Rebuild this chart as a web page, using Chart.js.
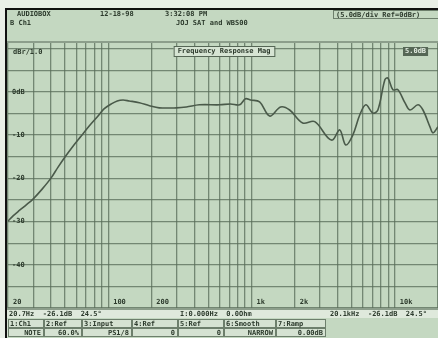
<!DOCTYPE html>
<html><head><meta charset="utf-8">
<script src="https://cdn.jsdelivr.net/npm/chart.js@4"></script>
<style>html,body{margin:0;padding:0;background:#e9efe7;overflow:hidden}#wrap{width:438px;height:338px;position:relative}</style>
</head><body><div id="wrap"><canvas id="c" width="438" height="338"></canvas></div>
<script>
// ---- data ----
const freqHz = [20,21.7,23.9,26.7,29.9,34.6,40,44.7,50.1,57,64.8,73.7,83.8,93.9,105,115.7,127,140,165,194,227,299,351,433,598,714,825,909,985,1138,1337,1596,1845,2275,2760,3404,3689,4127,4546,5088,5696,6275,7024,7612,8520,8940,9690,10500,11750,12740,14500,15710,17580,18450,20000];
const levelDb = [-29.9,-28.7,-27.5,-26.2,-24.8,-22.5,-19.9,-17.4,-15.0,-12.5,-10.2,-7.9,-5.8,-3.9,-2.8,-2.1,-1.9,-2.1,-2.5,-3.2,-3.7,-3.7,-3.5,-3.0,-3.0,-2.8,-3.0,-1.6,-1.9,-2.3,-5.6,-3.5,-4.2,-7.2,-6.9,-10.6,-11.1,-8.8,-12.3,-10.0,-5.3,-3.0,-4.9,-4.2,2.8,3.2,0.5,0.5,-2.5,-4.2,-3.0,-4.2,-8.1,-9.5,-8.1];
const gridFreqs = [20,30,40,50,60,70,80,90,100,200,300,400,500,600,700,800,900,1000,2000,3000,4000,5000,6000,7000,8000,9000,10000,20000];
const gridDb = [-50,-45,-40,-35,-30,-25,-20,-15,-10,-5,0,5,10];
const xLabelFreqs = [20,100,200,1000,2000,10000];
const xLabelTexts = ['20','100','200','1k','2k','10k'];
const yLabelDb = [0,-10,-20,-30,-40];
const yLabelTexts = ['0dB','-10','-20','-30','-40'];
const titleText = 'Frequency Response Mag';
const unitText = 'dBr/1.0';
const scaleText = '5.0dB';
const headerRow1 = ['AUDIOBOX', '12-18-98', '3:32:08 PM'];
const headerBox = '(5.0dB/div Ref=0dBr)';
const headerRow2Left = 'B Ch1';
const headerRow2Center = 'JOJ SAT and WBS00';
const statusRow1Left = '20.7Hz  -26.1dB  24.5\u00b0';
const statusRow1Mid = 'I:0.000Hz  0.0Ohm';
const statusRow1Right = '20.1kHz  -26.1dB  24.5\u00b0';
const statusRow2 = ['1:Ch1','2:Ref','3:Input','4:Ref','5:Ref','6:Smooth','7:Ramp'];
const statusRow3 = ['NOTE','60.0%','PS1/8','0','0','NARROW','0.00dB'];

const BG = '#c4d8c1', GRID = 'rgba(88,108,88,0.75)', INK = '#2c3a2c';

const decor = {
  id: 'decor',
  beforeDraw(chart) {
    const ctx = chart.ctx;
    ctx.save();
    ctx.fillStyle = '#e9efe7'; ctx.fillRect(0, 0, 438, 338);
    ctx.fillStyle = BG; ctx.fillRect(7, 9, 431, 329);
    ctx.fillStyle = '#111'; ctx.fillRect(5, 8, 2, 330); ctx.fillRect(5, 8, 433, 2);
    ctx.fillStyle = '#8c9e8b'; ctx.fillRect(7, 41, 431, 2);
    // header
    ctx.fillStyle = INK; ctx.font = 'bold 7px "DejaVu Sans Mono"'; ctx.textBaseline = 'middle';
    ctx.fillText(headerRow1[0], 17, 14); ctx.fillText(headerRow1[1], 100, 14); ctx.fillText(headerRow1[2], 165, 14);
    ctx.strokeStyle = '#6d7f6c'; ctx.lineWidth = 1; ctx.strokeRect(333.5, 10.5, 110, 8);
    ctx.fillText(headerBox, 336, 15);
    ctx.fillText(headerRow2Left, 10, 23);
    ctx.fillText(headerRow2Center, 176, 23);
    ctx.restore();
  },
  afterDraw(chart) {
    const ctx = chart.ctx, xs = chart.scales.x, ys = chart.scales.y;
    ctx.save();
    ctx.fillStyle = INK; ctx.font = 'bold 7px "DejaVu Sans Mono"'; ctx.textBaseline = 'middle';
    xLabelFreqs.forEach((f, i) => ctx.fillText(xLabelTexts[i], xs.getPixelForValue(f) + 5, 302));
    yLabelDb.forEach((d, i) => ctx.fillText(yLabelTexts[i], 12, ys.getPixelForValue(d)));
    ctx.fillText(unitText, 13, 52);
    // title box
    ctx.font = 'bold 7px "DejaVu Sans Mono"';
    const tw = ctx.measureText(titleText).width;
    ctx.fillStyle = '#d6e4d3'; ctx.fillRect(224 - tw / 2 - 4, 46, tw + 8, 10);
    ctx.strokeStyle = '#556655'; ctx.lineWidth = 1; ctx.strokeRect(224 - tw / 2 - 4 + 0.5, 46.5, tw + 8, 10);
    ctx.fillStyle = INK; ctx.fillText(titleText, 224 - tw / 2, 51.5);
    const sw = ctx.measureText(scaleText).width;
    ctx.fillStyle = '#556655'; ctx.fillRect(403, 47, sw + 4, 9);
    ctx.fillStyle = '#e4ede2'; ctx.fillText(scaleText, 405, 51.5);
    // status area
    ctx.fillStyle = '#8c9e8b'; ctx.fillRect(7, 308, 431, 2);
    ctx.fillStyle = '#dfe9dc'; ctx.fillRect(7, 310, 431, 8);
    ctx.fillStyle = INK;
    ctx.fillText(statusRow1Left, 9, 314); ctx.fillText(statusRow1Mid, 180, 314); ctx.fillText(statusRow1Right, 330, 314);
    ctx.fillStyle = '#d5e2d2'; ctx.fillRect(7, 319, 318, 18);
    const cw = [36, 38, 50, 46, 46, 52, 50];
    let x = 8;
    statusRow2.forEach((t, i) => {
      ctx.strokeStyle = '#6d7f6c'; ctx.strokeRect(x + 0.5, 319.5, cw[i] - 1, 8);
      ctx.strokeRect(x + 0.5, 328.5, cw[i] - 1, 8);
      ctx.fillStyle = INK; ctx.fillText(t, x + 2, 324);
      ctx.fillText(statusRow3[i], x + cw[i] - 3 - ctx.measureText(statusRow3[i]).width, 333);
      x += cw[i];
    });
    ctx.restore();
  }
};

new Chart(document.getElementById('c'), {
  type: 'line',
  data: { datasets: [{ data: freqHz.map((f, i) => ({ x: f, y: levelDb[i] })), borderColor: '#4a5a4a', borderWidth: 1.6, pointRadius: 0, tension: 0.35, fill: false }] },
  options: {
    responsive: false, animation: false, devicePixelRatio: 1,
    layout: { padding: { left: 8, top: 43, right: 0, bottom: 30 } },
    plugins: { legend: { display: false }, tooltip: { enabled: false } },
    scales: {
      x: { type: 'logarithmic', min: 20, max: 20000,
        afterBuildTicks: s => { s.ticks = gridFreqs.map(v => ({ value: v })); },
        ticks: { display: false }, border: { display: false },
        grid: { color: GRID, lineWidth: 1.3, drawTicks: false } },
      y: { type: 'linear', min: -50, max: 11.3,
        afterBuildTicks: s => { s.ticks = gridDb.map(v => ({ value: v })); },
        ticks: { display: false }, border: { display: false },
        grid: { color: GRID, lineWidth: 1.3, drawTicks: false } }
    }
  },
  plugins: [decor]
});
</script></body></html>
